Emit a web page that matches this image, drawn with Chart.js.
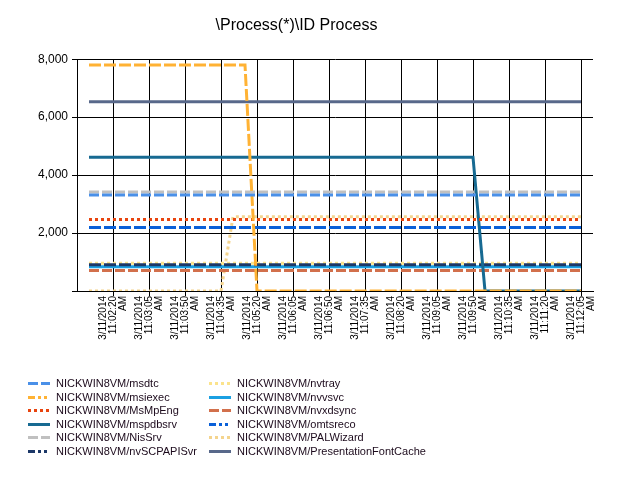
<!DOCTYPE html>
<html><head><meta charset="utf-8">
<script src="https://cdn.jsdelivr.net/npm/chart.js@4"></script>
<style>html,body{margin:0;padding:0;background:#fff}#wrap{width:620px;height:480px}</style>
</head><body><div id="wrap"><canvas id="c" width="620" height="480"></canvas></div>
<script>
const chartTitle = '\\Process(*)\\ID Process';

const sampleTimes = [
  '11:01:50','11:02:05','11:02:20','11:02:35','11:02:50','11:03:05','11:03:20','11:03:35','11:03:50','11:04:05','11:04:20','11:04:35','11:04:50','11:05:05',
  '11:05:20','11:05:35','11:05:50','11:06:05','11:06:20','11:06:35','11:06:50','11:07:05','11:07:20','11:07:35','11:07:50','11:08:05','11:08:20','11:08:35',
  '11:08:50','11:09:05','11:09:20','11:09:35','11:09:50','11:10:05','11:10:20','11:10:35','11:10:50','11:11:05','11:11:20','11:11:35','11:11:50','11:12:05'
];

const xTickLabels = [
  '3/11/2014 11:02:20 AM','3/11/2014 11:03:05 AM','3/11/2014 11:03:50 AM','3/11/2014 11:04:35 AM','3/11/2014 11:05:20 AM',
  '3/11/2014 11:06:05 AM','3/11/2014 11:06:50 AM','3/11/2014 11:07:35 AM','3/11/2014 11:08:20 AM','3/11/2014 11:09:05 AM',
  '3/11/2014 11:09:50 AM','3/11/2014 11:10:35 AM','3/11/2014 11:11:20 AM','3/11/2014 11:12:05 AM'
];

const msdtc = [
  3310,3310,3310,3310,3310,3310,3310,3310,3310,3310,3310,3310,3310,3310,
  3310,3310,3310,3310,3310,3310,3310,3310,3310,3310,3310,3310,3310,3310,
  3310,3310,3310,3310,3310,3310,3310,3310,3310,3310,3310,3310,3310,3310
];
const msiexec = [
  7800,7800,7800,7800,7800,7800,7800,7800,7800,7800,7800,7800,7800,7800,
  0,0,0,0,0,0,0,0,0,0,0,0,0,0,
  0,0,0,0,0,0,0,0,0,0,0,0,0,0
];
const MsMpEng = [
  2470,2470,2470,2470,2470,2470,2470,2470,2470,2470,2470,2470,2470,2470,
  2470,2470,2470,2470,2470,2470,2470,2470,2470,2470,2470,2470,2470,2470,
  2470,2470,2470,2470,2470,2470,2470,2470,2470,2470,2470,2470,2470,2470
];
const mspdbsrv = [
  4620,4620,4620,4620,4620,4620,4620,4620,4620,4620,4620,4620,4620,4620,
  4620,4620,4620,4620,4620,4620,4620,4620,4620,4620,4620,4620,4620,4620,
  4620,4620,4620,4620,4620,0,0,0,0,0,0,0,0,0
];
const NisSrv = [
  3420,3420,3420,3420,3420,3420,3420,3420,3420,3420,3420,3420,3420,3420,
  3420,3420,3420,3420,3420,3420,3420,3420,3420,3420,3420,3420,3420,3420,
  3420,3420,3420,3420,3420,3420,3420,3420,3420,3420,3420,3420,3420,3420
];
const nvSCPAPISvr = [
  905,905,905,905,905,905,905,905,905,905,905,905,905,905,
  905,905,905,905,905,905,905,905,905,905,905,905,905,905,
  905,905,905,905,905,905,905,905,905,905,905,905,905,905
];
const nvtray = [
  960,960,960,960,960,960,960,960,960,960,960,960,960,960,
  960,960,960,960,960,960,960,960,960,960,960,960,960,960,
  960,960,960,960,960,960,960,960,960,960,960,960,960,960
];
const nvvsvc = [
  840,840,840,840,840,840,840,840,840,840,840,840,840,840,
  840,840,840,840,840,840,840,840,840,840,840,840,840,840,
  840,840,840,840,840,840,840,840,840,840,840,840,840,840
];
const nvxdsync = [
  705,705,705,705,705,705,705,705,705,705,705,705,705,705,
  705,705,705,705,705,705,705,705,705,705,705,705,705,705,
  705,705,705,705,705,705,705,705,705,705,705,705,705,705
];
const omtsreco = [
  2190,2190,2190,2190,2190,2190,2190,2190,2190,2190,2190,2190,2190,2190,
  2190,2190,2190,2190,2190,2190,2190,2190,2190,2190,2190,2190,2190,2190,
  2190,2190,2190,2190,2190,2190,2190,2190,2190,2190,2190,2190,2190,2190
];
const PALWizard = [
  0,0,0,0,0,0,0,0,0,0,0,0,2560,2560,
  2560,2560,2560,2560,2560,2560,2560,2560,2560,2560,2560,2560,2560,2560,
  2560,2560,2560,2560,2560,2560,2560,2560,2560,2560,2560,2560,2560,2560
];
const PresentationFontCache = [
  6530,6530,6530,6530,6530,6530,6530,6530,6530,6530,6530,6530,6530,6530,
  6530,6530,6530,6530,6530,6530,6530,6530,6530,6530,6530,6530,6530,6530,
  6530,6530,6530,6530,6530,6530,6530,6530,6530,6530,6530,6530,6530,6530
];

const series = [
  ['NICKWIN8VM/msdtc', msdtc],
  ['NICKWIN8VM/msiexec', msiexec],
  ['NICKWIN8VM/MsMpEng', MsMpEng],
  ['NICKWIN8VM/mspdbsrv', mspdbsrv],
  ['NICKWIN8VM/NisSrv', NisSrv],
  ['NICKWIN8VM/nvSCPAPISvr', nvSCPAPISvr],
  ['NICKWIN8VM/nvtray', nvtray],
  ['NICKWIN8VM/nvvsvc', nvvsvc],
  ['NICKWIN8VM/nvxdsync', nvxdsync],
  ['NICKWIN8VM/omtsreco', omtsreco],
  ['NICKWIN8VM/PALWizard', PALWizard],
  ['NICKWIN8VM/PresentationFontCache', PresentationFontCache]
];

const DASH = [10,3], DOT = [3,3], LONGDASH = [12,3], SOLID = [], DDD = [7,3,3,3,3,3];
const styles = [
  {color:'#4a90e8', dash:DASH, key:DASH},
  {color:'#ffb234', dash:LONGDASH, key:DDD},
  {color:'#e8440e', dash:DOT, key:DOT},
  {color:'#176a92', dash:SOLID, key:SOLID},
  {color:'#c0c0c0', dash:DASH, key:DASH},
  {color:'#1c3868', dash:LONGDASH, key:DDD},
  {color:'#fbe38c', dash:DOT, key:DOT},
  {color:'#1ba0e2', dash:SOLID, key:SOLID},
  {color:'#d2704c', dash:DASH, key:DASH},
  {color:'#0a60d8', dash:LONGDASH, key:DDD},
  {color:'#f4d48e', dash:DOT, key:DOT},
  {color:'#58688a', dash:SOLID, key:SOLID}
];

function toSec(t){ const m = t.match(/(\d+):(\d+):(\d+)/); return (+m[1])*3600 + (+m[2])*60 + (+m[3]); }
const xs = sampleTimes.map(toSec);
const step = xs[1] - xs[0];
const tickVals = xTickLabels.map(toSec);

const datasets = series.map(([name, vals], i) => ({
  label: name,
  data: vals.map((v, k) => ({x: xs[k], y: v})),
  borderColor: styles[i].color,
  backgroundColor: styles[i].color,
  borderDash: styles[i].dash,
  legendDash: styles[i].key,
  borderWidth: 3,
  borderCapStyle: 'butt',
  pointRadius: 0,
  tension: 0,
  fill: false
}));

const colLegend = {
  id: 'colLegend',
  afterDraw(chart) {
    const ctx = chart.ctx;
    const ds = chart.data.datasets;
    const rows = Math.ceil(ds.length / 2);
    ctx.save();
    ctx.font = '11px "Liberation Sans", Arial, sans-serif';
    ctx.textBaseline = 'middle';
    ctx.textAlign = 'left';
    ds.forEach((d, i) => {
      const col = Math.floor(i / rows), row = i % rows;
      const x0 = 28 + col * 181;
      const y = Math.round(383 + row * 13.5) + 0.5;
      ctx.strokeStyle = d.borderColor;
      ctx.lineWidth = 3;
      ctx.lineCap = 'butt';
      ctx.setLineDash(d.legendDash || []);
      ctx.beginPath(); ctx.moveTo(x0, y); ctx.lineTo(x0 + 22, y); ctx.stroke();
      ctx.setLineDash([]);
      ctx.fillStyle = '#1c0a1c';
      ctx.fillText(d.label, x0 + 28, y);
    });
    ctx.restore();
  }
};

new Chart(document.getElementById('c'), {
  type: 'line',
  data: { datasets },
  plugins: [colLegend],
  options: {
    responsive: false,
    animation: false,
    events: [],
    layout: { padding: { left: 0, right: 27, top: 0, bottom: 0 } },
    plugins: {
      legend: { display: false },
      tooltip: { enabled: false },
      title: {
        display: true, text: chartTitle, color: '#000',
        font: { family: '"Liberation Sans", Arial, sans-serif', size: 16, weight: 'normal' },
        padding: { top: 16, bottom: 24 }
      }
    },
    scales: {
      x: {
        type: 'linear',
        min: xs[0] - step,
        max: xs[xs.length - 1] + step,
        afterBuildTicks: s => { s.ticks = tickVals.map(v => ({ value: v })); },
        afterFit: s => { s.height = 189; },
        grid: { color: '#000', lineWidth: 1, drawTicks: true, tickLength: 5, tickColor: '#000' },
        border: { display: true, color: '#000', width: 1 },
        ticks: {
          autoSkip: false, minRotation: 90, maxRotation: 90, padding: 0, labelOffset: -10,
          color: '#000',
          font: { family: '"Liberation Sans", Arial, sans-serif', size: 10, lineHeight: 1.0 },
          callback: (v, i) => xTickLabels[i].split(' ')
        }
      },
      y: {
        min: 0, max: 8000,
        afterFit: s => { s.width = 77; },
        grid: { color: '#000', lineWidth: 1, drawTicks: true, tickLength: 5, tickColor: '#000' },
        border: { display: true, color: '#000', width: 1 },
        ticks: {
          stepSize: 2000, padding: 4, color: '#000',
          font: { family: '"Liberation Sans", Arial, sans-serif', size: 12 },
          callback: v => v === 0 ? '' : v.toLocaleString('en-US')
        }
      }
    }
  }
});
</script>
</body></html>
